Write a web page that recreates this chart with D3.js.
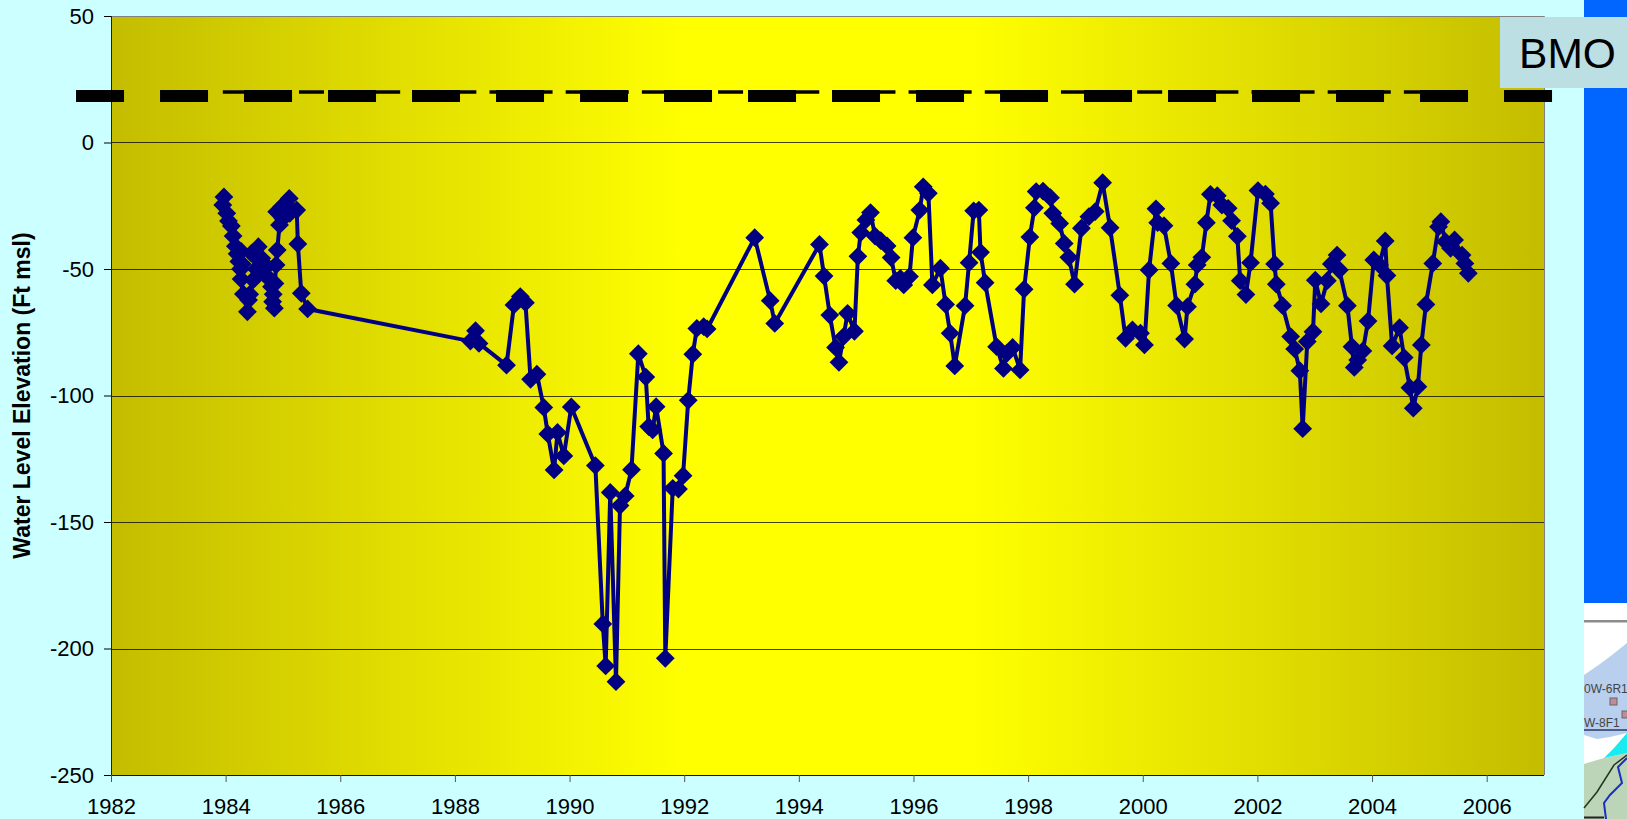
<!DOCTYPE html>
<html>
<head>
<meta charset="utf-8">
<script src="https://cdn.jsdelivr.net/npm/d3@7"></script>
<style>
  html, body { margin: 0; padding: 0; background: #ccffff; overflow: hidden; }
  text { font-family: "Liberation Sans", Arial, sans-serif; fill: #000; }
</style>
</head>
<body>
<div id="chart"></div>
<script>
// water level readings
const years = [
  1983.97,1983.95,1984.02,1984.05,1984.10,1984.13,1984.17,1984.20,1984.27,1984.29,1984.23,1984.26,1984.27,1984.31,1984.38,1984.40,1984.42,1984.48,1984.53,1984.45,1984.57,1984.63,1984.68,1984.72,1984.76,1984.80,1984.85,1984.82,1984.83,1984.86,1984.88,1984.90,1984.94,1984.89,1984.98,1985.00,1985.04,1985.08,1985.11,1985.12,1985.24,1985.26,1985.32,1985.43,
  1988.27,1988.36,1988.42,1988.90,1989.03,1989.14,1989.23,1989.32,1989.43,1989.55,1989.62,1989.73,1989.79,1989.90,1990.03,1990.45,1990.58,1990.63,1990.71,1990.81,1990.88,1990.97,1991.08,1991.20,1991.33,1991.38,1991.45,1991.51,1991.64,1991.67,1991.80,1991.90,1991.98,1992.07,1992.15,1992.22,1992.34,1992.40,
  1993.23,1993.50,1993.58,1994.36,1994.44,1994.54,1994.64,1994.70,1994.78,1994.85,1994.97,1995.03,1995.08,1995.17,1995.25,1995.33,1995.43,1995.54,1995.61,1995.69,1995.77,1995.83,1995.93,1995.99,1996.11,1996.17,1996.26,1996.33,1996.47,1996.56,1996.64,1996.72,1996.90,1996.97,1997.05,1997.14,1997.17,1997.25,1997.45,1997.57,1997.63,1997.73,1997.86,1997.93,1998.03,1998.11,1998.14,1998.26,
  1998.39,1998.43,1998.55,1998.63,1998.71,1998.81,1998.93,1999.06,1999.17,1999.30,1999.43,1999.60,1999.70,1999.82,1999.96,2000.03,2000.11,2000.23,2000.26,2000.37,2000.49,2000.59,2000.73,2000.78,2000.91,2000.95,2001.03,2001.11,2001.18,2001.30,2001.38,2001.49,2001.55,2001.65,2001.70,2001.80,2001.88,2002.01,2002.14,2002.23,2002.30,2002.33,2002.44,
  2002.58,2002.65,2002.74,2002.79,2002.87,2002.97,2003.01,2003.11,2003.22,2003.29,2003.39,2003.43,2003.57,2003.65,2003.69,2003.75,2003.84,2003.93,2004.03,2004.13,2004.23,2004.26,2004.35,2004.48,2004.56,2004.66,2004.72,2004.80,2004.86,2004.94,2005.06,2005.16,2005.20,2005.28,2005.37,2005.44,2005.57,2005.62,2005.68
];
const levels = [
  -21.5,-24.7,-28,-31,-33,-37,-41,-44,-43,-48,-47,-50,-54,-59.9,-66.9,-62.3,-60,-54.3,-50,-43.8,-41.2,-45.8,-52,-49,-54,-57,-65.5,-62.9,-60,-55.7,-48.4,-42.5,-32.6,-27.4,-25.4,-30,-24,-28,-22.1,-28,-26.7,-40.1,-59.6,-65.8,
  -78.5,-74.4,-79.4,-88,-64.2,-60.9,-63.3,-93.6,-91.6,-104.7,-115.2,-129.4,-114.6,-123.9,-104.5,-127.7,-190.3,-206.9,-138.3,-213.1,-143.5,-139.7,-129.3,-83.5,-92.7,-112.3,-113.6,-104.4,-122.9,-203.9,-136.7,-137,-131.7,-101.9,-83.7,-73.5,-72.8,-73.7,
  -37.6,-62.5,-71.5,-40.3,-52.8,-68.2,-81,-86.9,-76.7,-67.5,-74.6,-45,-35.6,-30.6,-27.7,-37,-38.8,-40.9,-45.5,-54.6,-53.7,-56.3,-53,-37.6,-26.7,-17.5,-20.1,-56.3,-49.7,-64,-75.4,-88.3,-64.5,-47.5,-27,-26.7,-43.4,-55.4,-80.7,-89.3,-83.3,-81,-89.9,-58,-37.4,-25.8,-19.4,-19.2,
  -21.8,-28,-32,-39.9,-45.4,-56,-33.9,-29.3,-27.3,-15.9,-33.7,-60.4,-77.4,-74.1,-75.4,-80,-50.4,-26.2,-31.7,-32.9,-47.8,-64.4,-77.7,-64.9,-56,-48.4,-45.4,-31.7,-20.5,-21,-24.7,-26,-30.9,-37.1,-54.6,-60.1,-47.5,-19,-20.4,-24,-48,-56,-64.5,
  -76.7,-81.6,-90.2,-113.1,-78.7,-74.8,-54.4,-63.8,-54.6,-48,-44.5,-50.4,-64.5,-80.7,-88.9,-86,-82.4,-70.6,-46.4,-48.4,-38.9,-52.6,-80.4,-73.2,-85,-96.9,-105,-96.5,-80,-64,-47.8,-33.3,-31.3,-39.2,-41.8,-38.5,-44.5,-47.8,-51.7
];
// the two dashed reference lines
const thinLineYears = [1983.95, 2005.65];
const thinLineLevels = [20, 20];
const thickLineYears = [1981.39, 2007.16];
const thickLineLevels = [18.4, 18.4];
const xTicks = [1982,1984,1986,1988,1990,1992,1994,1996,1998,2000,2002,2004,2006];
const yTicks = [50,0,-50,-100,-150,-200,-250];
const yLabel = "Water Level Elevation (Ft msl)";
const siteName = "BMO";

const width = 1627, height = 819;
const plot = { left: 111, right: 1544, top: 16, bottom: 775 };

const svg = d3.select("#chart").append("svg")
    .attr("width", width)
    .attr("height", height)
    .style("display", "block");

// scales
const x = d3.scaleLinear().domain([1982, 2007]).range([plot.left, plot.right]);
const y = d3.scaleLinear().domain([-250, 50]).range([plot.bottom, plot.top]);

// plot background gradient
const grad = svg.append("defs").append("linearGradient").attr("id", "plotBg");
grad.append("stop").attr("offset", "0%").attr("stop-color", "#c4bd00");
grad.append("stop").attr("offset", "40%").attr("stop-color", "#ffff00");
grad.append("stop").attr("offset", "60%").attr("stop-color", "#ffff00");
grad.append("stop").attr("offset", "100%").attr("stop-color", "#c4bd00");

svg.append("rect")
    .attr("x", plot.left).attr("y", plot.top)
    .attr("width", plot.right - plot.left).attr("height", plot.bottom - plot.top)
    .attr("fill", "url(#plotBg)");

// grid lines
svg.append("g").selectAll("line")
    .data(yTicks.filter(d => d !== 50 && d !== -250))
    .join("line")
    .attr("x1", plot.left).attr("x2", plot.right)
    .attr("y1", d => Math.round(y(d)) + 0.5).attr("y2", d => Math.round(y(d)) + 0.5)
    .attr("stroke", "#000").attr("stroke-opacity", 0.75);

// plot border, top and right are grey
svg.append("path")
    .attr("d", `M${plot.left},${plot.top + 0.5}H${plot.right + 0.5}V${plot.bottom}`)
    .attr("fill", "none").attr("stroke", "#808080");

// axes
const yAxis = d3.axisLeft(y).tickValues(yTicks).tickSize(7).tickPadding(10).tickFormat(d3.format("d"));
const xAxis = d3.axisBottom(x).tickValues(xTicks).tickSize(7).tickPadding(16).tickFormat(d3.format("d"));

const gy = svg.append("g").attr("transform", `translate(${plot.left},0)`).call(yAxis);
const gx = svg.append("g").attr("transform", `translate(0,${plot.bottom})`).call(xAxis);
gy.selectAll("text").style("font-size", "22px").text(d => String(d));
gx.selectAll("text").style("font-size", "22px");
gy.selectAll(".domain").attr("d", `M0.5,${plot.top}V${plot.bottom}`).attr("stroke", "#222");
gx.selectAll(".domain").attr("d", `M${plot.left},0.5H${plot.right}`).attr("stroke", "#111");
gx.selectAll(".tick line").attr("stroke", "#555");

// y axis title
svg.append("text")
    .attr("transform", `translate(30,${(plot.top + plot.bottom) / 2}) rotate(-90)`)
    .attr("text-anchor", "middle")
    .style("font-size", "23px")
    .style("font-weight", "bold")
    .text(yLabel);

// dashed lines, the thick one runs past the plot on both sides
const line = d3.line().x(d => x(d[0])).y(d => y(d[1]));
svg.append("path")
    .datum(d3.zip(thickLineYears, thickLineLevels))
    .attr("d", line)
    .attr("fill", "none").attr("stroke", "#000")
    .attr("stroke-width", 12).attr("stroke-dasharray", "48 36");
svg.append("path")
    .datum(d3.zip(thinLineYears, thinLineLevels))
    .attr("d", line)
    .attr("fill", "none").attr("stroke", "#000")
    .attr("stroke-width", 3.5).attr("stroke-dasharray", "25 13.1");

// the well series
const series = d3.zip(years, levels);
svg.append("path")
    .datum(series)
    .attr("d", line)
    .attr("fill", "none").attr("stroke", "#000080")
    .attr("stroke-width", 4).attr("stroke-linejoin", "round");

svg.append("g").selectAll("path")
    .data(series)
    .join("path")
    .attr("d", d3.symbol(d3.symbolDiamond2, 225))
    .attr("transform", d => `translate(${x(d[0])},${y(d[1])})`)
    .attr("fill", "#000080");

// right hand slide furniture: blue band, label box, cropped piece of site map
svg.append("rect").attr("x", 1584).attr("y", 0).attr("width", 43).attr("height", 603).attr("fill", "#0066ff");
svg.append("rect").attr("x", 1584).attr("y", 603).attr("width", 43).attr("height", 216).attr("fill", "#fff");
svg.append("rect").attr("x", 1500).attr("y", 17).attr("width", 127).attr("height", 71).attr("fill", "#bbdfe3");
svg.append("text")
    .attr("x", 1567.5).attr("y", 68)
    .attr("text-anchor", "middle")
    .style("font-size", "42.5px")
    .text(siteName);

const map = svg.append("g");
map.append("rect").attr("x", 1584).attr("y", 620).attr("width", 43).attr("height", 2.5).attr("fill", "#8c8c8c");
map.append("path").attr("d", "M1584,675L1600,664L1612,655L1627,643V733L1610,737L1597,739L1584,735Z").attr("fill", "#b8cfee");
map.append("path").attr("d", "M1584,730H1627").attr("stroke", "#2a3a66").attr("stroke-width", 1.5);
map.append("path").attr("d", "M1584,764L1604,758L1627,753V819H1584Z").attr("fill", "#bcd4b8");
map.append("path").attr("d", "M1604,758L1614,748L1627,733V753Z").attr("fill", "#19ecf0");
map.append("path").attr("d", "M1584,808L1597,792L1614,765L1627,755").attr("fill", "none").attr("stroke", "#223322").attr("stroke-width", 1.5);
map.append("path").attr("d", "M1606,819L1604,803L1610,795L1622,783L1618,767L1627,758").attr("fill", "none").attr("stroke", "#1a2fc0").attr("stroke-width", 2);
map.append("path").attr("d", "M1584,817.5H1604").attr("stroke", "#222").attr("stroke-width", 2);
map.append("text").attr("x", 1584).attr("y", 693).style("font-size", "12px").style("fill", "#444").text("0W-6R1");
map.append("text").attr("x", 1584).attr("y", 727).style("font-size", "12px").style("fill", "#444").text("W-8F1");
map.append("rect").attr("x", 1610).attr("y", 698).attr("width", 7).attr("height", 7).attr("fill", "#c08a9a").attr("stroke", "#666");
map.append("rect").attr("x", 1622).attr("y", 711).attr("width", 7).attr("height", 7).attr("fill", "#c08a9a").attr("stroke", "#666");
</script>
</body>
</html>
